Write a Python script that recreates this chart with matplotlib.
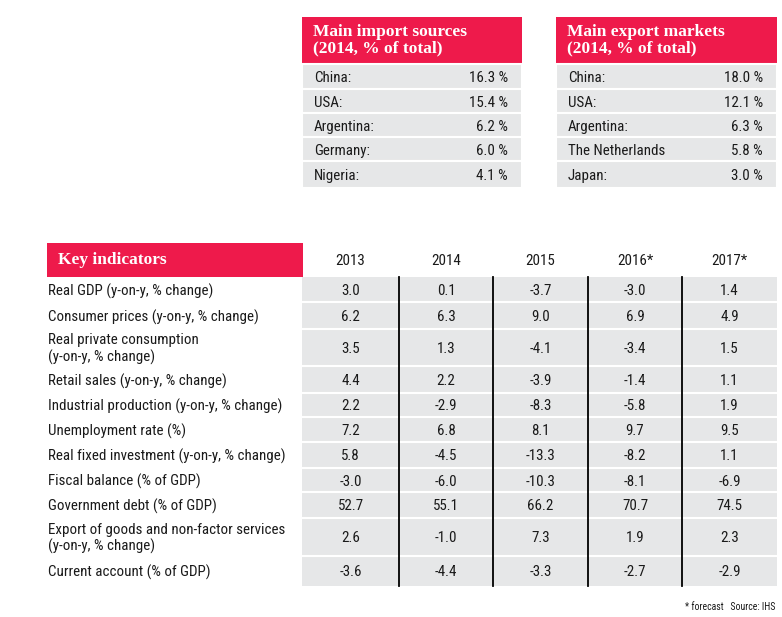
import matplotlib
matplotlib.use("Agg")
import matplotlib.pyplot as plt
from matplotlib.patches import Rectangle

# ---------------- data ----------------
import_countries = ["China:", "USA:", "Argentina:", "Germany:", "Nigeria:"]
import_shares = [16.3, 15.4, 6.2, 6.0, 4.1]
export_countries = ["China:", "USA:", "Argentina:", "The Netherlands", "Japan:"]
export_shares = [18.0, 12.1, 6.3, 5.8, 3.0]

years = ["2013", "2014", "2015", "2016*", "2017*"]
indicators = [
    "Real GDP (y-on-y, % change)",
    "Consumer prices (y-on-y, % change)",
    "Real private consumption\n(y-on-y, % change)",
    "Retail sales (y-on-y, % change)",
    "Industrial production (y-on-y, % change)",
    "Unemployment rate (%)",
    "Real fixed investment (y-on-y, % change)",
    "Fiscal balance (% of GDP)",
    "Government debt (% of GDP)",
    "Export of goods and non-factor services\n(y-on-y, % change)",
    "Current account (% of GDP)",
]
v2013 = [3.0, 6.2, 3.5, 4.4, 2.2, 7.2, 5.8, -3.0, 52.7, 2.6, -3.6]
v2014 = [0.1, 6.3, 1.3, 2.2, -2.9, 6.8, -4.5, -6.0, 55.1, -1.0, -4.4]
v2015 = [-3.7, 9.0, -4.1, -3.9, -8.3, 8.1, -13.3, -10.3, 66.2, 7.3, -3.3]
v2016 = [-3.0, 6.9, -3.4, -1.4, -5.8, 9.7, -8.2, -8.1, 70.7, 1.9, -2.7]
v2017 = [1.4, 4.9, 1.5, 1.1, 1.9, 9.5, 1.1, -6.9, 74.5, 2.3, -2.9]
values = [v2013, v2014, v2015, v2016, v2017]

# ---------------- style ----------------
RED = "#EE1A4B"
GRAY = "#E6E7E8"
TXT = "#1a1a1a"
BODY = ["Roboto Condensed", "DejaVu Sans Condensed", "Liberation Sans Narrow", "Roboto"]
HEAD = ["Liberation Serif", "DejaVu Serif"]
FS = 10.8
DY = 1.5

fig = plt.figure(figsize=(7.82, 6.17), dpi=100)
ax = fig.add_axes([0, 0, 1, 1])
ax.set_xlim(0, 782)
ax.set_ylim(617, 0)
ax.axis("off")


def small_table(x0, x1, title, names, shares):
    ax.add_patch(Rectangle((x0, 17), x1 - x0, 47, facecolor=RED, edgecolor="none"))
    ax.text(x0 + 11, 40, title, color="white", fontsize=12.5, fontweight="bold",
            family=HEAD, va="center", ha="left", linespacing=1.0)
    seps = [64, 89, 113, 137, 161, 188]
    for i, (n, s) in enumerate(zip(names, shares)):
        top, bot = seps[i], seps[i + 1]
        ax.add_patch(Rectangle((x0, top), x1 - x0, bot - top, facecolor=GRAY,
                               edgecolor="white", linewidth=1.5))
        yc = 77 + 24.3 * i + DY
        ax.text(x0 + 12, yc, n, fontsize=FS, family=BODY, color=TXT,
                va="center", ha="left")
        ax.text(x1 - 14, yc, f"{s:.1f} %", fontsize=FS, family=BODY, color=TXT,
                va="center", ha="right")


small_table(302, 522, "Main import sources\n(2014, % of total)",
            import_countries, import_shares)
small_table(556, 777, "Main export markets\n(2014, % of total)",
            export_countries, export_shares)

# ---------------- key indicators ----------------
ax.add_patch(Rectangle((47, 243), 256, 34, facecolor=RED, edgecolor="none"))
ax.text(58, 260, "Key indicators", color="white", fontsize=12.5, fontweight="bold",
        family=HEAD, va="center", ha="left")

col_edges = [302, 399, 493, 588, 682, 777]
for j, yr in enumerate(years):
    xc = (col_edges[j] + col_edges[j + 1]) / 2
    ax.text(xc, 261, yr, fontsize=FS, family=BODY, color=TXT, va="center", ha="center")

row_edges = [277, 302, 329, 366, 393, 417, 442, 468, 492, 518, 556, 586]
for i, name in enumerate(indicators):
    top, bot = row_edges[i], row_edges[i + 1]
    yc = (top + bot) / 2 + DY
    ax.text(48, yc, name, fontsize=FS, family=BODY, color=TXT, va="center",
            ha="left", linespacing=1.15)
    ax.add_patch(Rectangle((col_edges[0], top), col_edges[-1] - col_edges[0], bot - top,
                           facecolor=GRAY, edgecolor="none"))
    if i > 0:
        ax.plot([col_edges[0], col_edges[-1]], [top, top], color="white", lw=1.5)
    for j in range(len(years)):
        xc = (col_edges[j] + col_edges[j + 1]) / 2
        ax.text(xc, yc, f"{values[j][i]:.1f}", fontsize=FS, family=BODY, color=TXT,
                va="center", ha="center")

for xe in col_edges[1:-1]:
    ax.plot([xe, xe], [row_edges[0], row_edges[-1]], color="black", lw=1.3)

ax.text(775, 607, "* forecast   Source: IHS", fontsize=7, family=BODY, color=TXT,
        va="center", ha="right")

fig.savefig("out.png", dpi=100)
